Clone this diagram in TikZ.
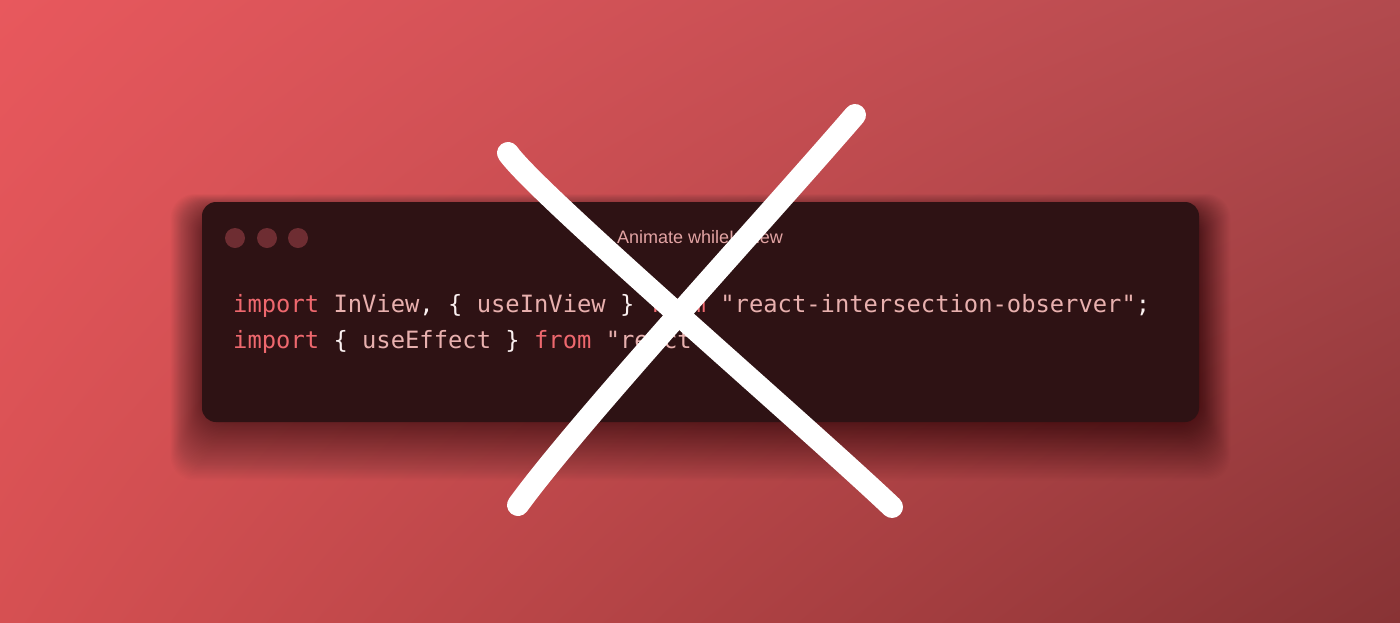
\documentclass[tikz,border=0pt]{standalone}
\usepackage{fontspec}
\usepackage{tikz}
\usetikzlibrary{positioning, calc, shadings}
\newfontfamily\codefont{DejaVu Sans Mono}
\newfontfamily\titlefont{Liberation Sans}

\definecolor{colBgA}{RGB}{232, 88, 93}
\definecolor{colBgB}{RGB}{178, 74, 78}
\definecolor{colBgC}{RGB}{214, 80, 82}
\definecolor{colBgD}{RGB}{136, 51, 53}
\definecolor{colWin}{RGB}{46, 18, 20}
\definecolor{colDot}{RGB}{110, 45, 50}
\definecolor{colTitle}{RGB}{226, 163, 163}
\definecolor{colKw}{RGB}{238, 104, 110}
\definecolor{colId}{RGB}{232, 176, 174}
\definecolor{colPn}{RGB}{250, 240, 240}

\newcommand{\codekw}[1]{\textcolor{colKw}{#1}}
\newcommand{\codeid}[1]{\textcolor{colId}{#1}}
\newcommand{\codepn}[1]{\textcolor{colPn}{#1}}

\begin{document}
\begin{tikzpicture}[x=1pt, y=-1pt,
    codeline/.style={anchor=base west, inner sep=0pt, font=\codefont\fontsize{23.8}{28}\selectfont},
    stroke/.style={white, line width=22pt, line cap=round}]
    \useasboundingbox (0, 0) rectangle (1400, 622);

    % --- Hintergrund ---
    \shade[upper left=colBgA, upper right=colBgB, lower left=colBgC, lower right=colBgD]
        (0, 0) rectangle (1400, 622);

    % --- Schatten (weich) ---
    \foreach \s in {1, ..., 45} {
        \fill[black, opacity=0.012, rounded corners=24pt] (202-\s*0.7, 212-\s*0.4) rectangle (1199+\s*0.7, 422+\s*1.3);
    }

    % --- Fenster ---
    \fill[colWin, rounded corners=14pt] (202, 202) rectangle (1199, 422);
    \foreach \x [count=\i] in {235, 267, 298} {
        \fill[colDot] (\x, 238) circle (10) coordinate (dot\i);
    }
    \node[anchor=base, inner sep=0pt, text=colTitle, font=\titlefont\fontsize{18}{20}\selectfont]
        (title) at (700, 243) {Animate whileInView};

    % --- Code ---
    \node[codeline] (line1) at (233, 312)
        {\codekw{import} \codeid{InView}\codepn{,} \codepn{\{} \codeid{useInView} \codepn{\}} \codekw{from} \codeid{"react-intersection-observer"}\codepn{;}};
    \node[codeline] (line2) at (233, 348)
        {\codekw{import} \codepn{\{} \codeid{useEffect} \codepn{\}} \codekw{from} \codeid{"react"}\codepn{;}};

    % --- Kreuz ---
    \draw[stroke] (508, 153) .. controls (535, 192) and (800, 420) .. (892, 507);
    \draw[stroke] (855, 115) .. controls (760, 225) and (580, 420) .. (518, 505);

\end{tikzpicture}
\end{document}
